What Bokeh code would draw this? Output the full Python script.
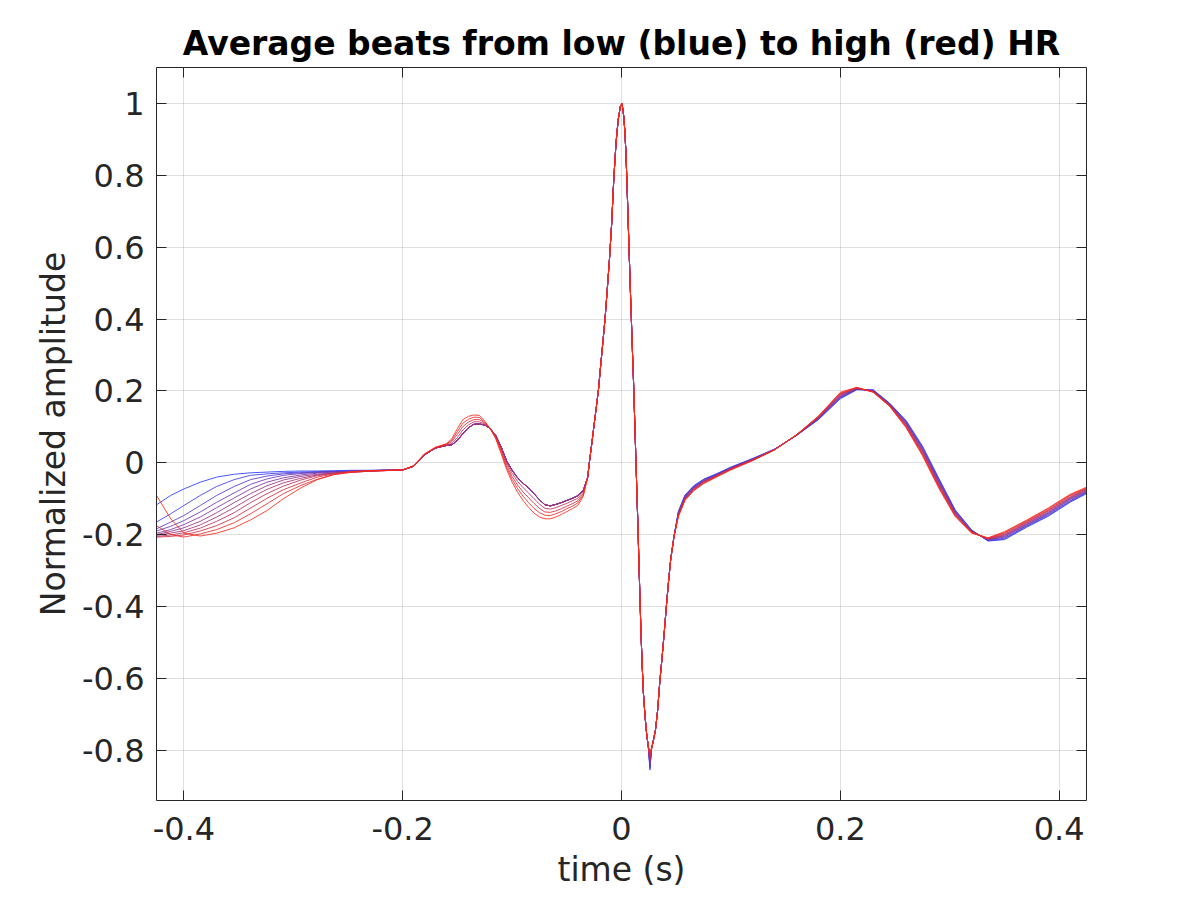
from bokeh.plotting import figure
from bokeh.models import Range1d, FixedTicker, LinearAxis
from bokeh.embed import file_html
from bokeh.resources import INLINE

# ---------------- data ----------------
TITLE = "Average beats from low (blue) to high (red) HR"
X_LABEL = "time (s)"
Y_LABEL = "Normalized amplitude"
X_TICKS = [-0.4, -0.2, 0.0, 0.2, 0.4]
X_TICK_LABELS = ["-0.4", "-0.2", "0", "0.2", "0.4"]
Y_TICKS = [-0.8, -0.6, -0.4, -0.2, 0.0, 0.2, 0.4, 0.6, 0.8, 1.0]
Y_TICK_LABELS = ["-0.8", "-0.6", "-0.4", "-0.2", "0", "0.2", "0.4", "0.6", "0.8", "1"]

# early segment (before P wave): each beat has its own values
T_EARLY = [-0.425, -0.412, -0.4, -0.385, -0.37, -0.354, -0.339, -0.324,
           -0.309, -0.293, -0.278, -0.263, -0.248, -0.233, -0.217, -0.2]
EARLY_0 = [-0.117, -0.091, -0.073, -0.054, -0.040, -0.032, -0.028, -0.026, -0.024, -0.023, -0.023, -0.022, -0.021, -0.021, -0.020, -0.020]
EARLY_1 = [-0.165, -0.142, -0.119, -0.091, -0.066, -0.047, -0.035, -0.031, -0.028, -0.026, -0.025, -0.024, -0.023, -0.022, -0.021, -0.020]
EARLY_2 = [-0.184, -0.165, -0.147, -0.119, -0.091, -0.066, -0.047, -0.037, -0.031, -0.028, -0.026, -0.025, -0.023, -0.022, -0.021, -0.020]
EARLY_3 = [-0.190, -0.177, -0.161, -0.137, -0.110, -0.084, -0.060, -0.045, -0.035, -0.030, -0.027, -0.025, -0.024, -0.023, -0.021, -0.020]
EARLY_4 = [-0.196, -0.186, -0.172, -0.151, -0.125, -0.098, -0.073, -0.054, -0.042, -0.034, -0.029, -0.026, -0.024, -0.023, -0.021, -0.020]
EARLY_5 = [-0.200, -0.191, -0.181, -0.163, -0.139, -0.111, -0.086, -0.064, -0.048, -0.038, -0.032, -0.028, -0.025, -0.023, -0.021, -0.020]
EARLY_6 = [-0.202, -0.196, -0.189, -0.173, -0.151, -0.125, -0.098, -0.074, -0.056, -0.043, -0.034, -0.029, -0.026, -0.024, -0.022, -0.020]
EARLY_7 = [-0.205, -0.201, -0.195, -0.182, -0.163, -0.139, -0.111, -0.086, -0.065, -0.048, -0.036, -0.030, -0.026, -0.024, -0.022, -0.020]
EARLY_8 = [-0.207, -0.205, -0.201, -0.190, -0.175, -0.153, -0.126, -0.099, -0.075, -0.056, -0.040, -0.031, -0.027, -0.024, -0.022, -0.020]
EARLY_9 = [-0.175, -0.200, -0.207, -0.198, -0.186, -0.167, -0.142, -0.114, -0.086, -0.063, -0.046, -0.033, -0.027, -0.024, -0.022, -0.020]
EARLY_10 = [-0.091, -0.156, -0.196, -0.204, -0.196, -0.181, -0.159, -0.133, -0.100, -0.070, -0.047, -0.033, -0.025, -0.022, -0.021, -0.020]

# P wave and Q segment
T_MID = [-0.19, -0.18, -0.17, -0.16, -0.155, -0.15, -0.145, -0.14, -0.135, -0.13,
         -0.125, -0.12, -0.115, -0.11, -0.105, -0.1, -0.095, -0.09, -0.085, -0.08,
         -0.075, -0.07, -0.065, -0.06, -0.055, -0.05, -0.045, -0.04, -0.035]
PQ_BLUE = [-0.010, 0.022, 0.041, 0.048, 0.050, 0.062, 0.081, 0.097, 0.107, 0.108, 0.105, 0.095, 0.076, 0.044, 0.005, -0.021, -0.042, -0.057, -0.070, -0.086, -0.103, -0.117, -0.120, -0.116, -0.111, -0.105, -0.099, -0.092, -0.077]
PQ_7 = [-0.010, 0.023, 0.041, 0.049, 0.054, 0.070, 0.091, 0.105, 0.114, 0.114, 0.108, 0.095, 0.074, 0.039, -0.001, -0.029, -0.052, -0.069, -0.084, -0.100, -0.115, -0.127, -0.129, -0.125, -0.119, -0.113, -0.106, -0.099, -0.081]
PQ_8 = [-0.009, 0.024, 0.042, 0.051, 0.059, 0.079, 0.101, 0.113, 0.120, 0.120, 0.111, 0.095, 0.072, 0.035, -0.007, -0.038, -0.062, -0.081, -0.097, -0.113, -0.127, -0.137, -0.138, -0.134, -0.128, -0.121, -0.114, -0.106, -0.086]
PQ_9 = [-0.009, 0.024, 0.043, 0.052, 0.063, 0.087, 0.110, 0.121, 0.127, 0.126, 0.113, 0.095, 0.069, 0.030, -0.013, -0.046, -0.072, -0.093, -0.111, -0.127, -0.139, -0.146, -0.147, -0.142, -0.136, -0.128, -0.121, -0.112, -0.090]
PQ_10 = [-0.008, 0.025, 0.043, 0.053, 0.067, 0.095, 0.120, 0.129, 0.133, 0.132, 0.116, 0.095, 0.067, 0.025, -0.019, -0.054, -0.082, -0.105, -0.124, -0.140, -0.151, -0.156, -0.156, -0.151, -0.144, -0.136, -0.128, -0.119, -0.094]

# QRS complex (shared), S trough depth per beat
T_QRS_A = [-0.031, -0.029, -0.027, -0.025, -0.023, -0.021, -0.019, -0.017, -0.015, -0.013,
           -0.011, -0.009, -0.007, -0.005, -0.003, -0.001, 0.0005, 0.002, 0.003, 0.004,
           0.005, 0.006, 0.007, 0.008, 0.009, 0.010, 0.011, 0.012, 0.013, 0.014,
           0.015, 0.016, 0.017, 0.018, 0.019, 0.020, 0.0215, 0.023, 0.0245]
QRS_A = [-0.042, 0.010, 0.057, 0.107, 0.155, 0.205, 0.272, 0.336, 0.402, 0.483,
         0.566, 0.665, 0.792, 0.890, 0.955, 0.992, 1.000, 0.965, 0.925, 0.865,
         0.780, 0.680, 0.585, 0.490, 0.400, 0.310, 0.225, 0.125, 0.025, -0.075,
         -0.175, -0.285, -0.390, -0.490, -0.570, -0.640, -0.705, -0.755, -0.790]
T_TROUGH = 0.026
S_TROUGH = [-0.855, -0.850, -0.846, -0.842, -0.838, -0.833, -0.828, -0.822, -0.816, -0.809, -0.800]
T_QRS_B = [0.0275, 0.029, 0.031, 0.033, 0.035, 0.037, 0.039, 0.041, 0.043, 0.045, 0.048]
QRS_B = [-0.795, -0.775, -0.745, -0.690, -0.610, -0.545, -0.475, -0.400, -0.330, -0.268, -0.205]

# ST segment and T wave, per beat
T_LATE = [0.052, 0.058, 0.066, 0.075, 0.088, 0.1, 0.12, 0.14, 0.16, 0.18, 0.2, 0.215, 0.23,
          0.245, 0.26, 0.275, 0.29, 0.305, 0.32, 0.335, 0.35, 0.37, 0.39, 0.41, 0.425]
LATE_0 = [-0.135, -0.090, -0.064, -0.046, -0.029, -0.012, 0.012, 0.038, 0.076, 0.120, 0.178, 0.203, 0.203, 0.166, 0.118, 0.047, -0.043, -0.131, -0.187, -0.218, -0.214, -0.180, -0.149, -0.110, -0.086]
LATE_1 = [-0.137, -0.092, -0.065, -0.047, -0.030, -0.013, 0.011, 0.038, 0.076, 0.121, 0.180, 0.204, 0.202, 0.165, 0.116, 0.044, -0.046, -0.133, -0.188, -0.217, -0.212, -0.178, -0.147, -0.108, -0.084]
LATE_2 = [-0.138, -0.093, -0.067, -0.048, -0.031, -0.014, 0.011, 0.038, 0.076, 0.122, 0.182, 0.204, 0.202, 0.164, 0.114, 0.042, -0.049, -0.135, -0.189, -0.216, -0.210, -0.176, -0.144, -0.106, -0.082]
LATE_3 = [-0.140, -0.095, -0.068, -0.050, -0.032, -0.014, 0.010, 0.037, 0.077, 0.123, 0.183, 0.205, 0.201, 0.163, 0.112, 0.039, -0.051, -0.137, -0.190, -0.215, -0.207, -0.174, -0.142, -0.103, -0.081]
LATE_4 = [-0.141, -0.096, -0.070, -0.051, -0.033, -0.015, 0.010, 0.037, 0.077, 0.124, 0.185, 0.206, 0.200, 0.162, 0.110, 0.036, -0.054, -0.139, -0.191, -0.214, -0.205, -0.172, -0.140, -0.101, -0.079]
LATE_5 = [-0.142, -0.098, -0.071, -0.052, -0.034, -0.016, 0.009, 0.037, 0.077, 0.125, 0.187, 0.207, 0.199, 0.161, 0.108, 0.034, -0.057, -0.141, -0.192, -0.213, -0.203, -0.170, -0.138, -0.099, -0.077]
LATE_6 = [-0.144, -0.099, -0.072, -0.053, -0.034, -0.017, 0.008, 0.037, 0.077, 0.126, 0.189, 0.207, 0.199, 0.161, 0.106, 0.031, -0.060, -0.142, -0.192, -0.213, -0.201, -0.168, -0.135, -0.097, -0.075]
LATE_7 = [-0.146, -0.101, -0.074, -0.054, -0.035, -0.018, 0.008, 0.037, 0.077, 0.127, 0.191, 0.208, 0.198, 0.160, 0.104, 0.028, -0.063, -0.144, -0.193, -0.212, -0.199, -0.166, -0.133, -0.095, -0.073]
LATE_8 = [-0.147, -0.102, -0.075, -0.056, -0.036, -0.018, 0.007, 0.036, 0.078, 0.128, 0.192, 0.209, 0.197, 0.159, 0.102, 0.025, -0.065, -0.146, -0.194, -0.211, -0.196, -0.164, -0.131, -0.092, -0.072]
LATE_9 = [-0.148, -0.103, -0.077, -0.057, -0.037, -0.019, 0.007, 0.036, 0.078, 0.129, 0.194, 0.209, 0.197, 0.158, 0.100, 0.023, -0.068, -0.148, -0.195, -0.210, -0.194, -0.162, -0.128, -0.090, -0.070]
LATE_10 = [-0.150, -0.105, -0.078, -0.058, -0.038, -0.020, 0.006, 0.036, 0.078, 0.130, 0.196, 0.210, 0.196, 0.157, 0.098, 0.020, -0.071, -0.150, -0.196, -0.209, -0.192, -0.160, -0.126, -0.088, -0.068]

EARLY = [EARLY_0, EARLY_1, EARLY_2, EARLY_3, EARLY_4, EARLY_5, EARLY_6, EARLY_7, EARLY_8, EARLY_9, EARLY_10]
MID = [PQ_BLUE, PQ_BLUE, PQ_BLUE, PQ_BLUE, PQ_BLUE, PQ_BLUE, PQ_BLUE, PQ_7, PQ_8, PQ_9, PQ_10]
LATE = [LATE_0, LATE_1, LATE_2, LATE_3, LATE_4, LATE_5, LATE_6, LATE_7, LATE_8, LATE_9, LATE_10]

# line colours, low HR (blue) to high HR (red)
COLORS = ["#283cff", "#3e3ae8", "#5338d0", "#6936b9", "#7e34a1", "#94328a",
          "#a93072", "#bf2e5b", "#d42c43", "#ea2a2c", "#ff2814"]

# ---------------- figure ----------------
FONT = "DejaVu Sans"
INK = "#262626"

p = figure(frame_width=930, frame_height=733,
           min_border_left=156, min_border_right=98,
           min_border_top=67, min_border_bottom=92,
           x_range=Range1d(-0.425, 0.425), y_range=Range1d(-0.94, 1.1),
           output_backend="svg", toolbar_location=None, tools="")
p.background_fill_color = "white"
p.border_fill_color = "white"
p.outline_line_color = None

for i in range(len(EARLY)):
    xs = T_EARLY + T_MID + T_QRS_A + [T_TROUGH] + T_QRS_B + T_LATE
    ys = EARLY[i] + MID[i] + QRS_A + [S_TROUGH[i]] + QRS_B + LATE[i]
    p.line(xs, ys, line_color=COLORS[i], line_width=1, line_alpha=0.85)


def style_axis(ax, ticks, labels, show):
    ax.ticker = FixedTicker(ticks=ticks)
    ax.major_tick_in = 10
    ax.major_tick_out = 0
    ax.minor_tick_line_color = None
    ax.axis_line_color = INK
    ax.axis_line_width = 1
    ax.major_tick_line_color = INK
    ax.major_tick_line_width = 1
    ax.major_label_text_font = FONT
    ax.major_label_text_color = INK
    if show:
        ax.major_label_overrides = dict(zip(ticks, labels))
        ax.major_label_text_font_size = "32px"
    else:
        ax.major_label_overrides = {t: "" for t in ticks}
        ax.major_label_text_font_size = "1px"
        ax.major_label_standoff = 0


xb = p.xaxis[0]
yl = p.yaxis[0]
style_axis(xb, X_TICKS, X_TICK_LABELS, True)
style_axis(yl, Y_TICKS, Y_TICK_LABELS, True)
xb.major_label_standoff = 16
yl.major_label_standoff = 12

xb.axis_label = X_LABEL
yl.axis_label = Y_LABEL
for ax in (xb, yl):
    ax.axis_label_text_font = FONT
    ax.axis_label_text_font_size = "33px"
    ax.axis_label_text_font_style = "normal"
    ax.axis_label_text_color = INK
xb.axis_label_standoff = 7
yl.axis_label_standoff = 6

xt = LinearAxis()
style_axis(xt, X_TICKS, X_TICK_LABELS, False)
p.add_layout(xt, "above")
yr = LinearAxis()
style_axis(yr, Y_TICKS, Y_TICK_LABELS, False)
p.add_layout(yr, "right")

p.xgrid.ticker = FixedTicker(ticks=X_TICKS)
p.ygrid.ticker = FixedTicker(ticks=Y_TICKS)
p.grid.grid_line_color = INK
p.grid.grid_line_alpha = 0.15
p.grid.grid_line_width = 1

p.title.text = TITLE
p.title.align = "center"
p.title.text_font = FONT
p.title.text_font_size = "33px"
p.title.text_font_style = "bold"
p.title.text_color = "black"
p.title.standoff = 9

open("out.html", "w").write(file_html(p, INLINE))
